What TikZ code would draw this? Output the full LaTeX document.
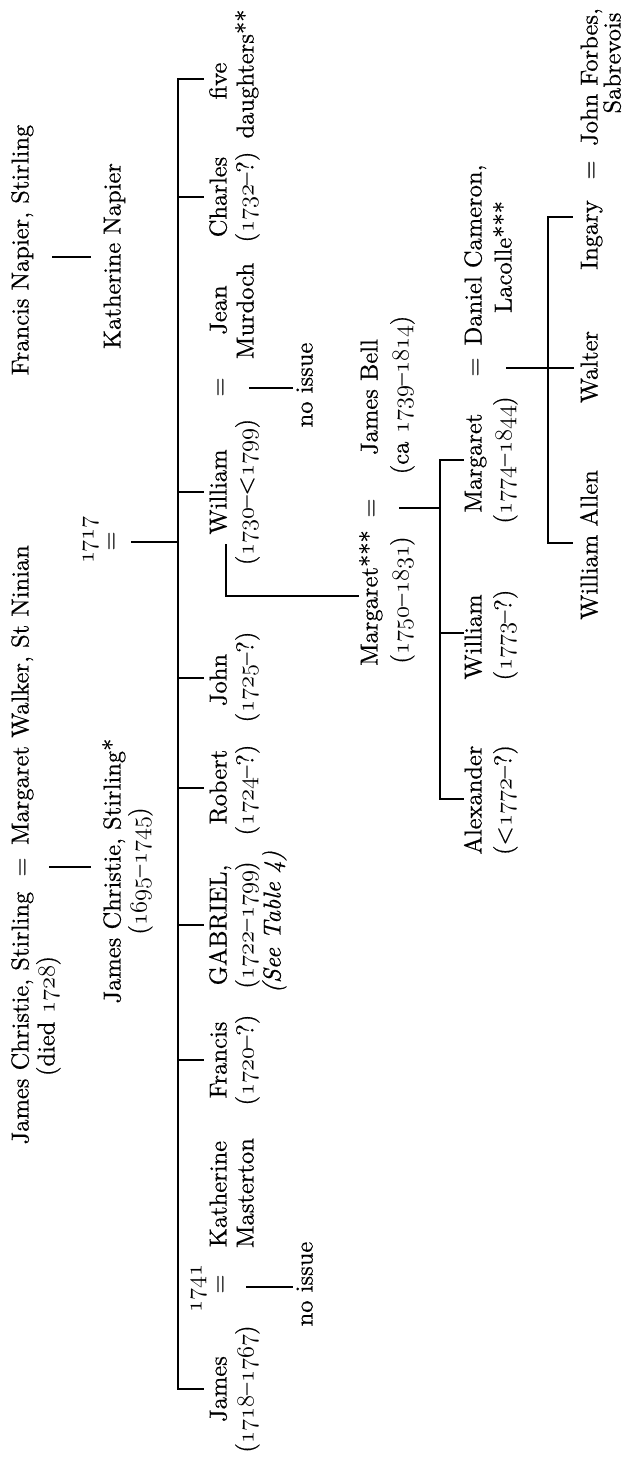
\RequirePackage{fix-cm}
\documentclass[tikz,border=0pt]{standalone}
\usepackage{fontspec}
\setmainfont{lmroman10-regular.otf}[ItalicFont=lmroman10-italic.otf, FakeBold=0.5]
\newcommand\famfs{\fontsize{24.5}{28}\selectfont}
\newcommand\os[1]{{\usefont{OML}{cmm}{m}{it}#1}}
\tikzset{
  lbl/.style={rotate=90, inner sep=0pt, anchor=center, text height=0.7em, text depth=0.2em, font=\famfs},
  ln/.style={line width=1.4pt, line cap=rect}
}
\begin{document}
\begin{tikzpicture}[x=1pt,y=-1pt]
\useasboundingbox (0,0) rectangle (626,1463);
% generation 1
\node[lbl] (jcs) at (26,1018) {James Christie, Stirling};
\node[lbl] (eqA) at (26,867) {=};
\node[lbl] (mws) at (26,695) {Margaret Walker, St Ninian};
\node[lbl] (died) at (52,1016) {(died \os{1728})};
\node[lbl] (fns) at (26,250) {Francis Napier, Stirling};
% generation 2
\node[lbl] (jcj) at (118,871) {James Christie, Stirling*};
\node[lbl] (jcjd) at (144,871) {(\os{1695}--\os{1745})};
\node[lbl] (kn) at (118,256) {Katherine Napier};
\node[lbl] (m1717) at (91,540) {\os{1717}};
\node[lbl] (eqB) at (115,541) {=};
% generation 3 (children)
\node[lbl] (five) at (224,81) {five};
\node[lbl] (daut) at (251,74) {daughters**};
\node[lbl] (charles) at (224,197) {Charles};
\node[lbl] (charlesd) at (251,197) {(\os{1732}--?)};
\node[lbl] (jean) at (224,310) {Jean};
\node[lbl] (murdoch) at (251,311) {Murdoch};
\node[lbl] (eqW) at (224,387) {=};
\node[lbl] (william) at (224,492) {William};
\node[lbl] (williamd) at (251,492) {(\os{1730}--<\os{1799})};
\node[lbl] (john) at (224,680) {John};
\node[lbl] (johnd) at (251,677) {(\os{1725}--?)};
\node[lbl] (robert) at (224,787) {Robert};
\node[lbl] (robertd) at (251,790) {(\os{1724}--?)};
\node[lbl] (gabriel) at (224,925) {GABRIEL,};
\node[lbl] (gabrield) at (251,925) {(\os{1722}--\os{1799})};
\node[lbl] (gabrielt) at (278,922) {\itshape (See Table 4)};
\node[lbl] (francis) at (224,1060) {Francis};
\node[lbl] (francisd) at (251,1060) {(\os{1720}--?)};
\node[lbl] (kath) at (224,1194) {Katherine};
\node[lbl] (mast) at (251,1193) {Masterton};
\node[lbl] (eqJ) at (224,1284) {=};
\node[lbl] (m1741) at (199,1288) {\os{1741}};
\node[lbl] (james) at (224,1389) {James};
\node[lbl] (jamesd) at (251,1389) {(\os{1718}--\os{1767})};
\node[lbl] (noiA) at (310,385) {no issue};
\node[lbl] (noiB) at (310,1284) {no issue};
% generation 4
\node[lbl] (marg) at (375,598) {Margaret***};
\node[lbl] (margd) at (406,600) {(\os{1750}--\os{1831})};
\node[lbl] (eqD) at (375,508) {=};
\node[lbl] (bell) at (375,397) {James Bell};
\node[lbl] (belld) at (406,395) {(ca \os{1739}--\os{1814})};
% generation 5
\node[lbl] (alex) at (479,800) {Alexander};
\node[lbl] (alexd) at (509,800) {(<\os{1772}--?)};
\node[lbl] (wil2) at (479,637) {William};
\node[lbl] (wil2d) at (509,635) {(\os{1773}--?)};
\node[lbl] (marg2) at (479,463) {Margaret};
\node[lbl] (marg2d) at (509,460) {(\os{1774}--\os{1844})};
\node[lbl] (eqE) at (479,367) {=};
\node[lbl] (daniel) at (479,255) {Daniel Cameron,};
\node[lbl] (lacolle) at (509,257) {Lacolle***};
% generation 6
\node[lbl] (wallen) at (595,545) {William Allen};
\node[lbl] (walter) at (595,367) {Walter};
\node[lbl] (ingary) at (595,235) {Ingary};
\node[lbl] (eqF) at (595,170) {=};
\node[lbl] (forbes) at (595,77) {John Forbes,};
\node[lbl] (sabre) at (618,63) {Sabrevois};
% connectors
\coordinate (a1) at (50,867); \coordinate (a2) at (90,867);
\draw[ln] (a1) -- (a2);
\coordinate (b1) at (53,257); \coordinate (b2) at (90,257);
\draw[ln] (b1) -- (b2);
\coordinate (c1) at (132,542); \coordinate (c2) at (178,542);
\draw[ln] (c1) -- (c2);
\coordinate (bartop) at (178,79); \coordinate (barbot) at (178,1389);
\draw[ln] (bartop) -- (barbot);
\foreach \n/\yy in {fd/79,ch/197,wi/492,jo/678,ro/788,ga/925,fr/1060,ja/1389}{
  \coordinate (s\n) at (178,\yy); \coordinate (e\n) at (203,\yy);
  \draw[ln] (s\n) -- (e\n);
}
\coordinate (w1) at (250,388); \coordinate (w2) at (292,388);
\draw[ln] (w1) -- (w2);
\coordinate (k1) at (247,1287); \coordinate (k2) at (292,1287);
\draw[ln] (k1) -- (k2);
\coordinate (m1) at (226,545); \coordinate (m2) at (226,596); \coordinate (m3) at (358,596);
\draw[ln] (m1) -- (m2) -- (m3);
\coordinate (d1) at (400,508); \coordinate (d2) at (440,508);
\draw[ln] (d1) -- (d2);
\coordinate (bar2top) at (440,460); \coordinate (bar2bot) at (440,799);
\draw[ln] (bar2top) -- (bar2bot);
\foreach \n/\yy in {mg/460,wl/633,al/799}{
  \coordinate (s\n) at (440,\yy); \coordinate (e\n) at (463,\yy);
  \draw[ln] (s\n) -- (e\n);
}
\coordinate (f1) at (507,368); \coordinate (f2) at (573,368);
\draw[ln] (f1) -- (f2);
\coordinate (bar3top) at (548,217); \coordinate (bar3bot) at (548,543);
\draw[ln] (bar3top) -- (bar3bot);
\foreach \n/\yy in {in/217,wa/543}{
  \coordinate (s\n) at (548,\yy); \coordinate (e\n) at (572,\yy);
  \draw[ln] (s\n) -- (e\n);
}
\end{tikzpicture}
\end{document}
